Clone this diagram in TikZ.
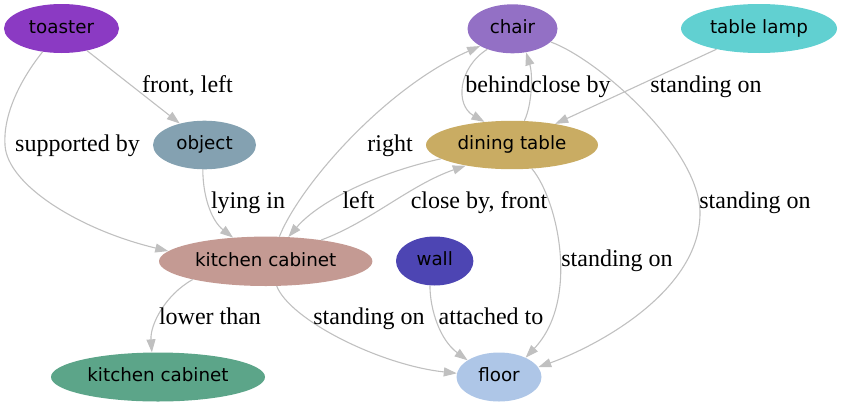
\documentclass[tikz,border=0pt]{standalone}
\usepackage{fontspec}
\setmainfont{Liberation Serif}
\newfontfamily\nodefont{DejaVu Sans}
\usetikzlibrary{shapes.geometric,arrows.meta}
\definecolor{ctoaster}{HTML}{8B3AC3}
\definecolor{cchair}{HTML}{9370C5}
\definecolor{clamp}{HTML}{61D0D1}
\definecolor{cobject}{HTML}{84A1B1}
\definecolor{cdining}{HTML}{C9AC63}
\definecolor{ckc}{HTML}{C49A93}
\definecolor{cwall}{HTML}{4D45B3}
\definecolor{ckcb}{HTML}{5CA589}
\definecolor{cfloor}{HTML}{AEC6E7}
\definecolor{edgegray}{HTML}{C0C0C0}
\tikzset{
  gnode/.style={ellipse, draw=none, inner sep=0pt, text height=13.5pt, text depth=4.1pt,
    font=\nodefont\fontsize{18.3}{22}\selectfont},
  edge/.style={draw=edgegray, line width=1.1pt, -{Triangle[length=13pt,width=9pt]}},
  lbl/.style={inner sep=0pt, anchor=base, font=\fontsize{24}{28}\selectfont}
}
\begin{document}
\begin{tikzpicture}[x=1pt,y=-1pt]
\useasboundingbox (0,0) rectangle (842,407);
% nodes
\node[gnode, fill=ctoaster, minimum width=115pt, minimum height=49pt] (toaster) at (61.5,28.5) {toaster};
\node[gnode, fill=cchair, minimum width=90pt, minimum height=49pt] (chair) at (512.5,28.8) {chair};
\node[gnode, fill=clamp, minimum width=156pt, minimum height=49pt] (lamp) at (759,28.5) {table lamp};
\node[gnode, fill=cobject, minimum width=103pt, minimum height=48.6pt] (object) at (204.5,145) {object};
\node[gnode, fill=cdining, minimum width=172pt, minimum height=48.4pt] (dining) at (512,145) {dining table};
\node[gnode, fill=ckc, minimum width=213.4pt, minimum height=49.4pt] (kc) at (265.7,261.3) {kitchen cabinet};
\node[gnode, fill=cwall, minimum width=77.4pt, minimum height=49pt] (wall) at (434.7,261) {wall};
\node[gnode, fill=ckcb, minimum width=214pt, minimum height=49pt] (kcb) at (158,377) {kitchen cabinet};
\node[gnode, fill=cfloor, minimum width=85pt, minimum height=49pt] (floor) at (499,377) {floor};
\coordinate (m1) at (5,145);
\coordinate (m2) at (700,213);
% edges
\draw[edge] (toaster.-41.5) -- (object.139.4);
\draw[edge] (toaster.231.7) .. controls (20,80) and (3,115) .. (m1) .. controls (7,185) and (80,230) .. (kc.174);
\draw[edge] (object.266) .. controls (203,200) and (213,222) .. (kc.144.5);
\draw[edge] (kc.61.6) .. controls (300,185) and (385,88) .. (chair.208.6);
\draw[edge] (dining.191.8) .. controls (380,172) and (320,200) .. (kc.47);
\draw[edge] (kc.21.4) .. controls (370,222) and (410,185) .. (dining.204);
\draw[edge] (chair.219.4) .. controls (458,68) and (455,105) .. (dining.140.9);
\draw[edge] (dining.63.7) .. controls (532,105) and (533,75) .. (chair.300);
\draw[edge] (lamp.206.9) -- (dining.26.8);
\draw[edge] (chair.341.8) .. controls (600,60) and (700,150) .. (m2) .. controls (700,290) and (600,345) .. (floor.14.1);
\draw[edge] (dining.310) .. controls (558,200) and (580,300) .. (floor.36.2);
\draw[edge] (kc.294) .. controls (290,320) and (380,365) .. (floor.175);
\draw[edge] (wall.259.4) .. controls (430,310) and (440,340) .. (floor.152.2);
\draw[edge] (kc.194.8) .. controls (165,295) and (150,325) .. (kcb.104.9);
% labels
\node[lbl] (l1) at (187.5,92) {front, left};
\node[lbl] (l2) at (77.5,151) {supported by};
\node[lbl] (l3) at (248,208) {lying in};
\node[lbl] (l4) at (390,151) {right};
\node[lbl] (l5) at (358.5,208) {left};
\node[lbl] (l6) at (479,208) {close by, front};
\node[lbl, anchor=base east] (l7) at (531,92) {behind};
\node[lbl, anchor=base west] (l8) at (531,92) {close by};
\node[lbl] (l9) at (706,92) {standing on};
\node[lbl] (l10) at (755,208) {standing on};
\node[lbl] (l11) at (617,266) {standing on};
\node[lbl] (l12) at (369,324) {standing on};
\node[lbl] (l13) at (491,324) {attached to};
\node[lbl] (l14) at (210,324) {lower than};
\end{tikzpicture}
\end{document}
